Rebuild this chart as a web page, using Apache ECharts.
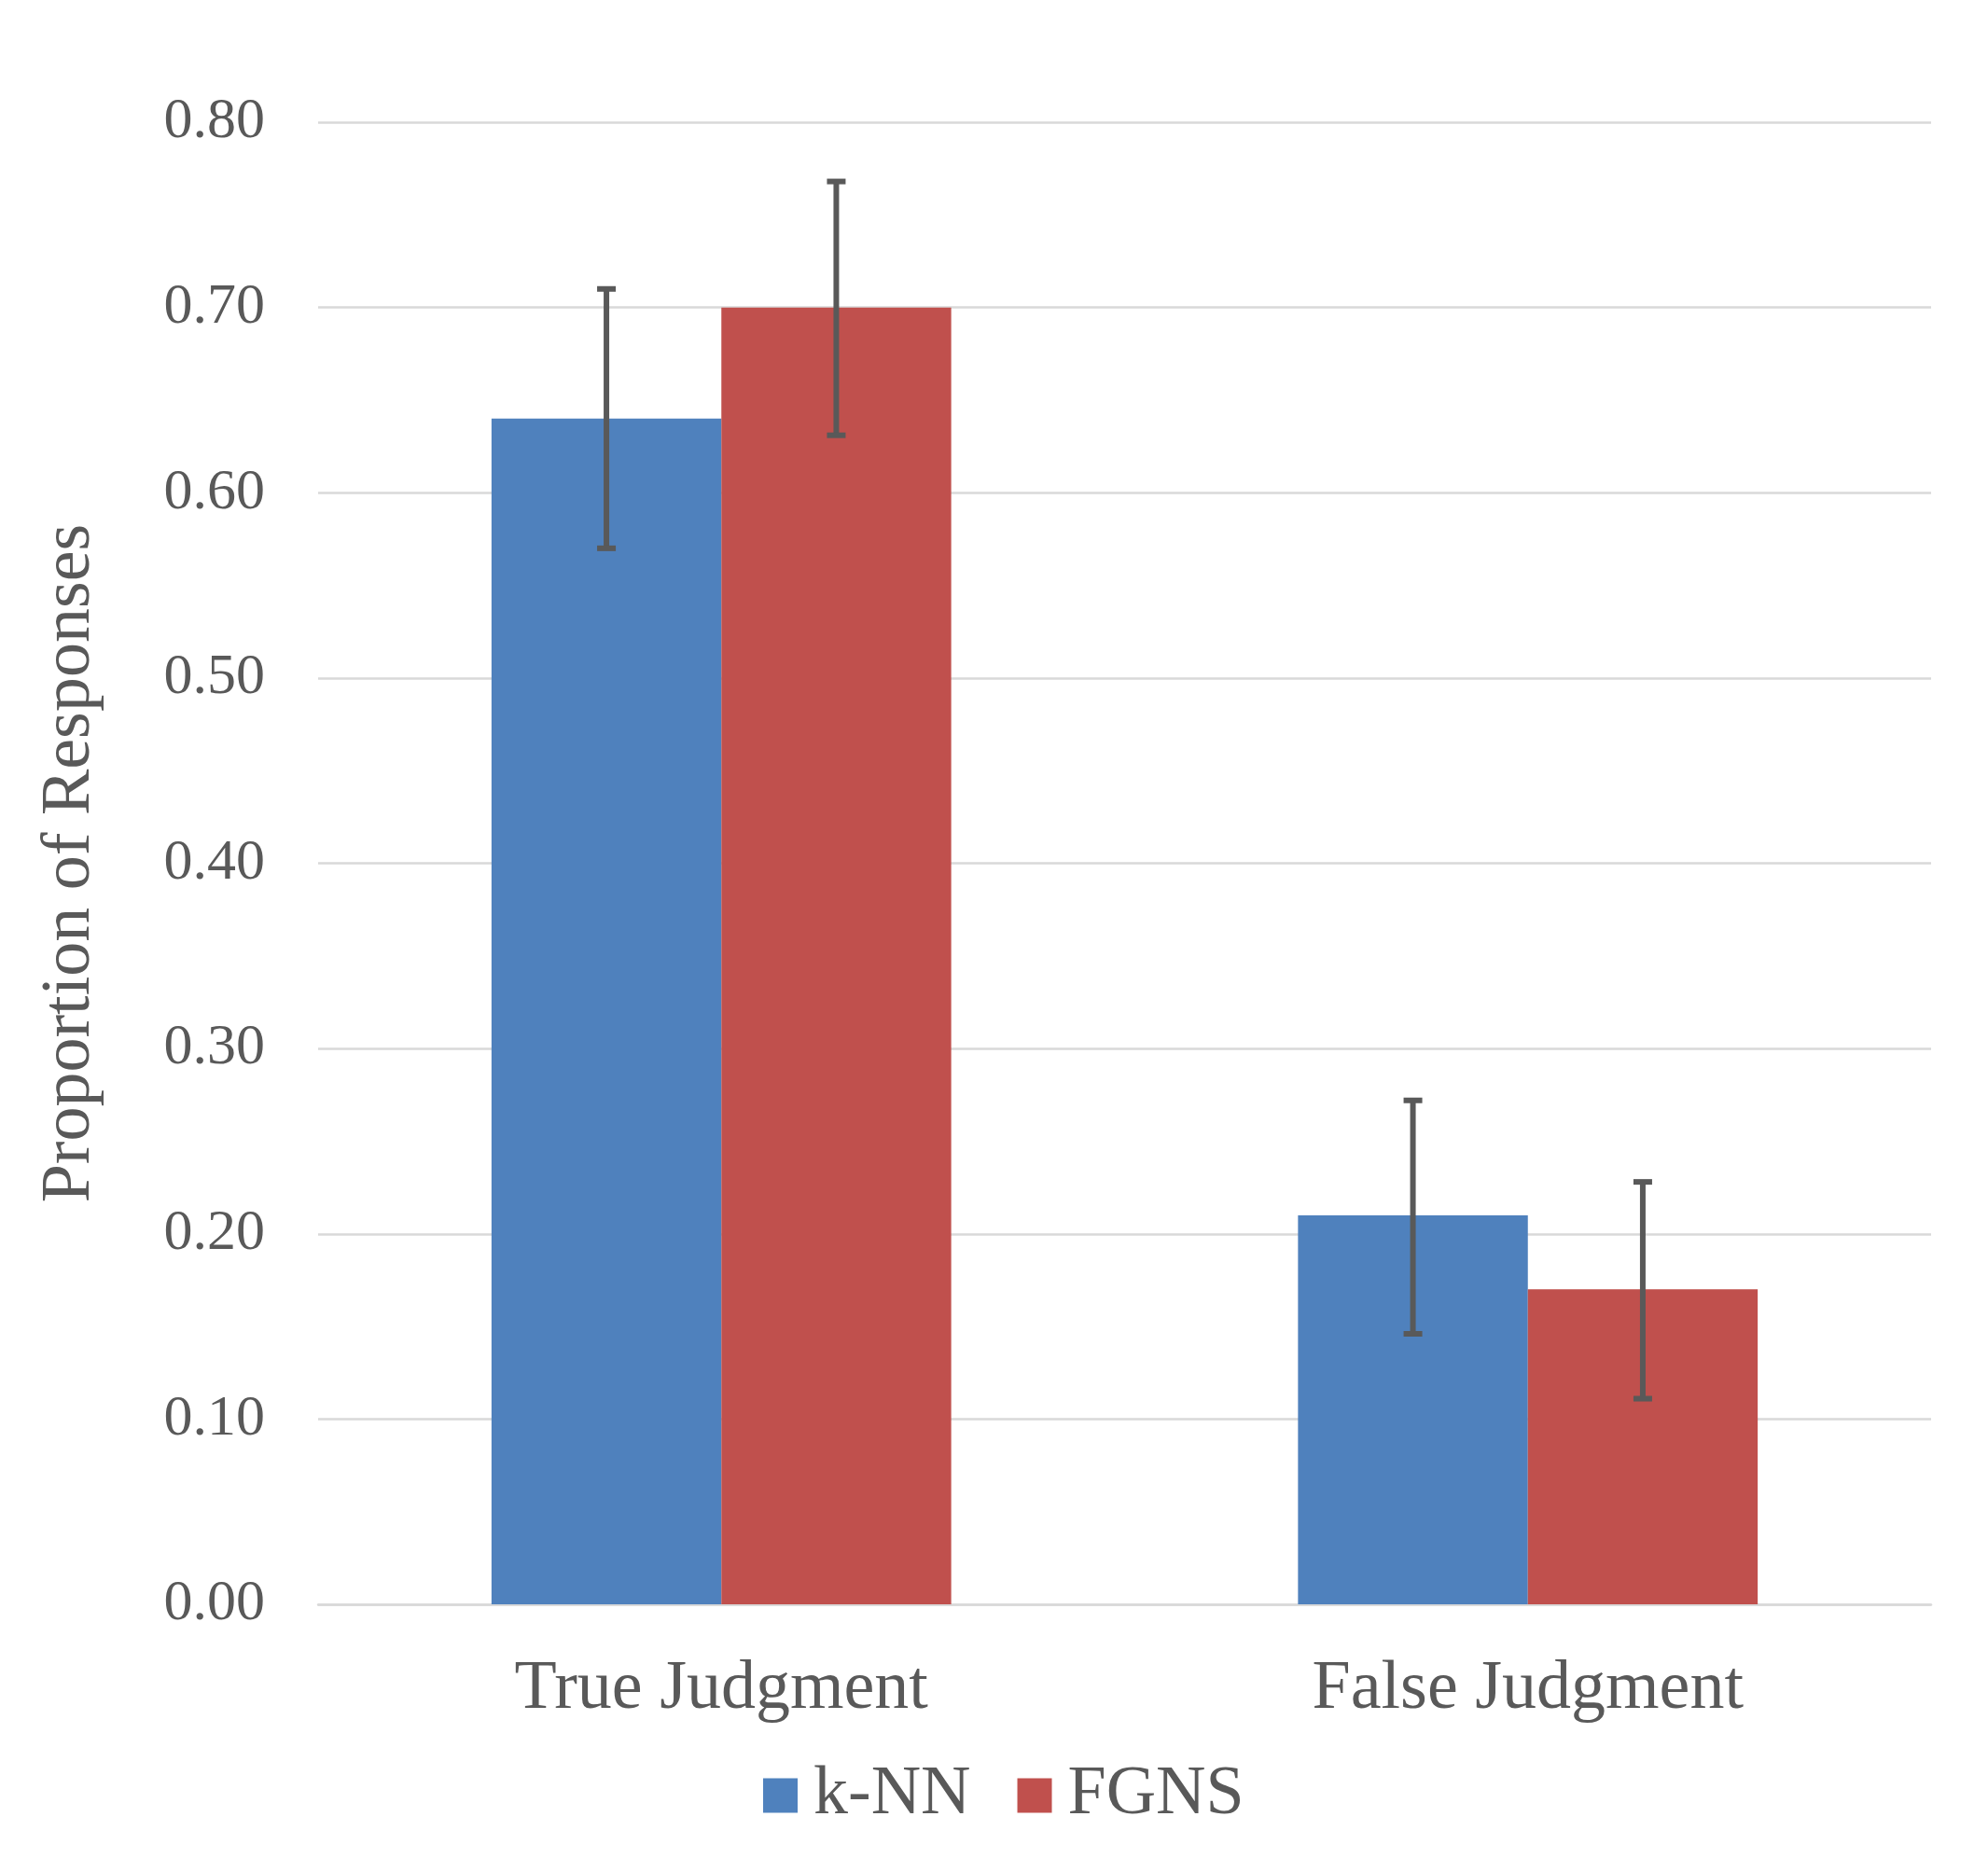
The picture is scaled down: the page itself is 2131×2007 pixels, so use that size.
<!DOCTYPE html>
<html>
<head>
<meta charset="utf-8">
<script src="https://cdn.jsdelivr.net/npm/echarts@6/dist/echarts.min.js"></script>
<style>html,body{margin:0;padding:0;background:#fff;}#c{width:2131px;height:2007px;}</style>
</head>
<body>
<div id="c"></div>
<script>
const categories = ['True Judgment', 'False Judgment'];
const seriesNames = ['k-NN', 'FGNS'];
const knnValues = [0.64, 0.21];
const fgnsValues = [0.70, 0.17];
const knnErrLow = [0.57, 0.146];
const knnErrHigh = [0.71, 0.272];
const fgnsErrLow = [0.631, 0.111];
const fgnsErrHigh = [0.768, 0.228];
const yTicks = [0, 0.1, 0.2, 0.3, 0.4, 0.5, 0.6, 0.7, 0.8];

const colors = ['#4F81BD', '#C0504D'];
const textColor = '#595959';
const font = '"Liberation Serif", "Times New Roman", serif';
const catGap = 0.43;

function errSeries(low, high, idx) {
  return {
    type: 'custom',
    z: 10,
    silent: true,
    data: categories.map((c, i) => [i, low[i], high[i]]),
    renderItem: function (params, api) {
      const ci = api.value(0);
      const lo = api.coord([ci, api.value(1)]);
      const hi = api.coord([ci, api.value(2)]);
      const bandW = api.size([1, 0])[0];
      const barW = bandW * (1 - catGap) / 2;
      const x = lo[0] + (idx === 0 ? -barW / 2 : barW / 2);
      const cap = 10;
      const st = { stroke: '#595959', lineWidth: 6 };
      return {
        type: 'group',
        children: [
          { type: 'line', shape: { x1: x, y1: lo[1], x2: x, y2: hi[1] }, style: st },
          { type: 'line', shape: { x1: x - cap, y1: lo[1], x2: x + cap, y2: lo[1] }, style: st },
          { type: 'line', shape: { x1: x - cap, y1: hi[1], x2: x + cap, y2: hi[1] }, style: st }
        ]
      };
    }
  };
}

const chart = echarts.init(document.getElementById('c'));
chart.setOption({
  animation: false,
  backgroundColor: '#ffffff',
  grid: { left: 341, right: 61, top: 131, bottom: 287, containLabel: false },
  legend: {
    data: seriesNames,
    top: 1883,
    left: 813,
    itemWidth: 37,
    itemHeight: 37,
    itemGap: 50,
    icon: 'rect',
    textStyle: { fontFamily: font, fontSize: 74, color: textColor, padding: [0, 0, 0, 12] }
  },
  xAxis: {
    type: 'category',
    data: categories,
    axisLine: { show: true, lineStyle: { color: '#d9d9d9', width: 2.5 } },
    axisTick: { show: false },
    axisLabel: { fontFamily: font, fontSize: 74, color: textColor, margin: 55 }
  },
  yAxis: {
    type: 'value',
    min: yTicks[0],
    max: yTicks[yTicks.length - 1],
    interval: 0.1,
    name: 'Proportion of Responses',
    nameLocation: 'middle',
    nameGap: 228,
    nameTextStyle: { fontFamily: font, fontSize: 74, color: textColor },
    axisLine: { show: false },
    axisTick: { show: false },
    splitLine: { lineStyle: { color: '#d9d9d9', width: 2.5 } },
    axisLabel: {
      fontFamily: font, fontSize: 62, color: textColor, margin: 57,
      formatter: v => v.toFixed(2)
    }
  },
  series: [
    { name: seriesNames[0], type: 'bar', data: knnValues, itemStyle: { color: colors[0] }, barGap: '0%', barCategoryGap: '43%' },
    { name: seriesNames[1], type: 'bar', data: fgnsValues, itemStyle: { color: colors[1] }, barGap: '0%', barCategoryGap: '43%' },
    errSeries(knnErrLow, knnErrHigh, 0),
    errSeries(fgnsErrLow, fgnsErrHigh, 1)
  ]
});
</script>
</body>
</html>
